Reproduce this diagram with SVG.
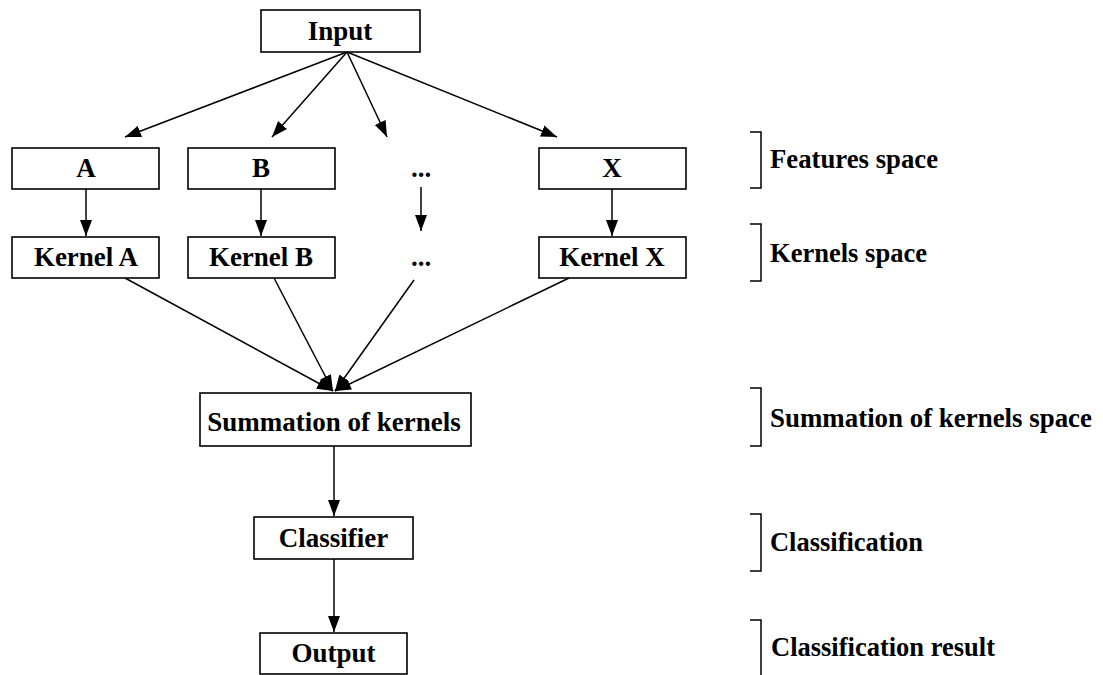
<svg xmlns="http://www.w3.org/2000/svg" width="1103" height="675" viewBox="0 0 1103 675">
<style>
.box{fill:#fff;stroke:#000;stroke-width:1.6}
.t{font-family:'Liberation Serif','Tinos','DejaVu Serif',serif;font-weight:bold;font-size:27px;fill:#000}
.c{text-anchor:middle}
.ln{stroke:#000;stroke-width:1.5;fill:none}
.br{stroke:#000;stroke-width:1.5;fill:none}
</style>
<defs>
<marker id="arr" markerUnits="userSpaceOnUse" markerWidth="17" markerHeight="13" refX="16" refY="6.5" orient="auto">
<path d="M0,0.5 L16,6.5 L0,12.5 z" fill="#000"/>
</marker>
</defs>
<g id="connectors">
<line class="ln" x1="347" y1="52" x2="125" y2="137" marker-end="url(#arr)"/>
<line class="ln" x1="347" y1="52" x2="272" y2="137" marker-end="url(#arr)"/>
<line class="ln" x1="347" y1="52" x2="387" y2="137" marker-end="url(#arr)"/>
<line class="ln" x1="347" y1="52" x2="557" y2="137" marker-end="url(#arr)"/>
<line class="ln" x1="86" y1="189" x2="86" y2="236" marker-end="url(#arr)"/>
<line class="ln" x1="261" y1="189" x2="261" y2="236" marker-end="url(#arr)"/>
<line class="ln" x1="421" y1="187" x2="421" y2="231" marker-end="url(#arr)"/>
<line class="ln" x1="612" y1="189" x2="612" y2="236" marker-end="url(#arr)"/>
<line class="ln" x1="125" y1="278" x2="333" y2="391" marker-end="url(#arr)"/>
<line class="ln" x1="274" y1="278" x2="333" y2="391" marker-end="url(#arr)"/>
<line class="ln" x1="414" y1="280" x2="335" y2="391" marker-end="url(#arr)"/>
<line class="ln" x1="569" y1="278" x2="335" y2="391" marker-end="url(#arr)"/>
<line class="ln" x1="334" y1="446" x2="334" y2="516" marker-end="url(#arr)"/>
<line class="ln" x1="334" y1="559" x2="334" y2="632" marker-end="url(#arr)"/>
</g>
<g id="node-input"><rect class="box" x="261" y="10" width="159" height="42"/><text class="t c" x="340" y="40">Input</text></g>
<g id="node-a"><rect class="box" x="12" y="148" width="147" height="41"/><text class="t c" x="86" y="177">A</text></g>
<g id="node-b"><rect class="box" x="188" y="148" width="147" height="41"/><text class="t c" x="261" y="177">B</text></g>
<g id="node-dots1"><text class="t c" x="421" y="177">...</text></g>
<g id="node-x"><rect class="box" x="539" y="148" width="147" height="41"/><text class="t c" x="612" y="177">X</text></g>
<g id="node-kernel-a"><rect class="box" x="12" y="237" width="147" height="41"/><text class="t c" x="86" y="266">Kernel A</text></g>
<g id="node-kernel-b"><rect class="box" x="188" y="237" width="147" height="41"/><text class="t c" x="261" y="266">Kernel B</text></g>
<g id="node-dots2"><text class="t c" x="421" y="266">...</text></g>
<g id="node-kernel-x"><rect class="box" x="539" y="237" width="147" height="41"/><text class="t c" x="612" y="266">Kernel X</text></g>
<g id="node-summation"><rect class="box" x="200" y="393" width="271" height="53"/><text class="t c" x="334" y="431">Summation of kernels</text></g>
<g id="node-classifier"><rect class="box" x="254" y="517" width="159" height="42"/><text class="t c" x="333.5" y="547">Classifier</text></g>
<g id="node-output"><rect class="box" x="260" y="633" width="147" height="41"/><text class="t c" x="333.5" y="662">Output</text></g>
<g id="labels">
<path class="br" d="M750,132 H761 V188 H750"/>
<text class="t" x="770" y="168" textLength="168" lengthAdjust="spacingAndGlyphs">Features space</text>
<path class="br" d="M750,224 H761 V281 H750"/>
<text class="t" x="770" y="262" textLength="157" lengthAdjust="spacingAndGlyphs">Kernels space</text>
<path class="br" d="M750,388 H761 V446 H750"/>
<text class="t" x="770" y="427" textLength="322" lengthAdjust="spacingAndGlyphs">Summation of kernels space</text>
<path class="br" d="M750,514 H761 V571 H750"/>
<text class="t" x="770" y="551" textLength="153" lengthAdjust="spacingAndGlyphs">Classification</text>
<path class="br" d="M750,620 H761 V676"/>
<text class="t" x="771" y="656" textLength="224" lengthAdjust="spacingAndGlyphs">Classification result</text>
</g>
</svg>
